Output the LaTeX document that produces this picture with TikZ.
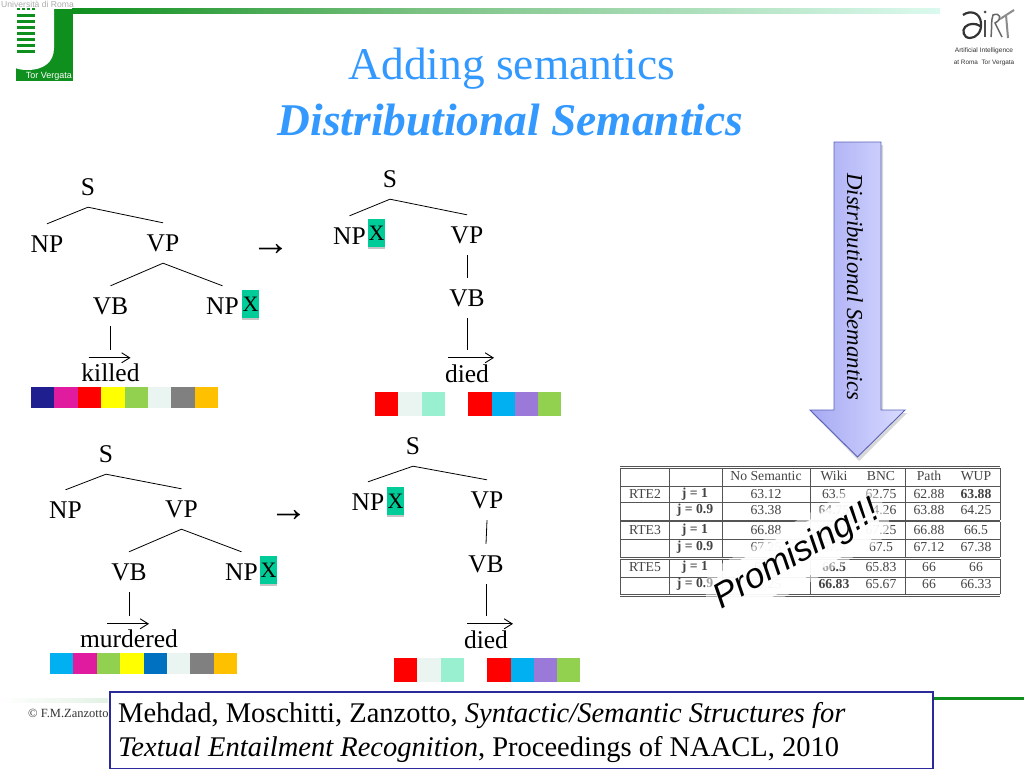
\documentclass[tikz,border=0pt]{standalone}
\usepackage{fontspec}
\setmainfont{Liberation Serif}
\newfontfamily\arialf{Liberation Sans}
\usetikzlibrary{calc,shadows,arrows.meta}
\definecolor{gr}{HTML}{0F8F1E}
\definecolor{tealx}{HTML}{00CC99}
\definecolor{cnavy}{HTML}{1F1F8F}
\definecolor{cmag}{HTML}{E01BA0}
\definecolor{cred}{HTML}{FF0000}
\definecolor{cyel}{HTML}{FFFF00}
\definecolor{cgrn}{HTML}{92D050}
\definecolor{cpale}{HTML}{EAF4F1}
\definecolor{cgray}{HTML}{808080}
\definecolor{corg}{HTML}{FFC000}
\definecolor{cmint}{HTML}{99F0D0}
\definecolor{csky}{HTML}{00B0F0}
\definecolor{cpur}{HTML}{9B79D8}
\definecolor{cblu}{HTML}{0070C0}
\definecolor{titleblue}{HTML}{3399FF}
\definecolor{boxblue}{HTML}{2A2A9A}
\definecolor{tline}{HTML}{555555}
\definecolor{ttext}{HTML}{444444}
\definecolor{arrL}{HTML}{A6A9F2}
\definecolor{arrR}{HTML}{D8DBFF}
\definecolor{arrB}{HTML}{5A62B8}
\tikzset{
 x=1pt,y=-1pt,
 lab/.style={inner sep=0pt,minimum height=40pt,font=\fontsize{25.5}{25.5}\selectfont,text=black},
 word/.style={inner sep=0pt,font=\fontsize{25.5}{25.5}\selectfont,text=black,text height=16pt,text depth=0pt},
 xbox/.style={fill=tealx,inner sep=0pt,minimum width=17pt,minimum height=28pt,font=\fontsize{22}{22}\selectfont,drop shadow={opacity=.45,shadow xshift=0pt,shadow yshift=-2pt}},
 treeline/.style={line width=.8pt,black},
 over/.style={line width=.9pt,black,-{Straight Barb[length=8pt,width=10pt]}},
 cell/.style={inner sep=0pt,font=\fontsize{13.7}{13.7}\selectfont,text=ttext},
 tl/.style={line width=.8pt,tline},
 bold/.style={cell,font=\fontsize{13.7}{13.7}\selectfont\bfseries}
}
\begin{document}
\begin{tikzpicture}
\useasboundingbox (0,0) rectangle (1024,768);
\fill[white] (0,0) rectangle (1024,768);

% header
\shade[left color=gr,right color=gr!55!white] (72,9) rectangle (420,14);
\shade[left color=gr!55!white,right color=cmint!35!white] (420,9) rectangle (940,14);
% left logo
\fill[gr] (16,9) rectangle (73,81);
\fill[white] (0,0) -- (54,0) -- (54,48) .. controls (54,62) and (44,70) .. (27,70) .. controls (10,70) and (0,60) .. (0,40) -- cycle;
\foreach \yy in {14,20,26,32,38,44,50}{\fill[gr] (17,\yy) rectangle (35,\yy+3.5);}
\foreach \xx in {17,22,27,32}{\fill[gr] (\xx,8) rectangle (\xx+3,10.5);}
\node[inner sep=0pt,anchor=west,font=\arialf\fontsize{8.6}{8.6}\selectfont,text=gray!65] (uni) at (1,4.5) {Università di Roma};
\node[inner sep=0pt,anchor=east,font=\arialf\fontsize{9}{9}\selectfont,text=white] (tv) at (72,76) {Tor Vergata};

% ART logo
\draw[line width=2.2pt,black!80] (963,15) .. controls (970,10) and (980,12) .. (981,23) .. controls (982,32) and (976,38) .. (970,38) .. controls (963,38) and (962,30) .. (965,27) .. controls (969,23) and (976,23) .. (980,26);
\draw[line width=1.5pt,black!70] (985,20) -- (985,37);
\fill[black!70] (985,12) circle (1.5pt);
\draw[line width=1.5pt,black!60] (991,37) .. controls (992,28) and (991,20) .. (993,15) .. controls (1000,12) and (1003,19) .. (995,23) -- (1002,37);
\draw[line width=2pt,black!45] (1000,19) -- (1014,10);
\draw[line width=2pt,black!45] (1006,15) -- (1008,38);
\node[inner sep=0pt,font=\arialf\fontsize{6.6}{6.6}\selectfont,text=black!80] (art1) at (984,50.5) {Artificial Intelligence};
\node[inner sep=0pt,font=\arialf\fontsize{6.4}{6.4}\selectfont,text=black!80] (art2) at (984,62.5) {at Roma\ \ Tor Vergata};

% title
\node[inner sep=0pt,font=\fontsize{45.4}{45.4}\selectfont,text=titleblue] (t1) at (512,69) {Adding semantics};
\node[inner sep=0pt,font=\fontsize{45.4}{45.4}\selectfont\bfseries\itshape,text=titleblue] (t2) at (510.5,120) {Distributional Semantics};

% tree 1
\node[lab] (a) at (88,187) {S};
\node[lab] (an) at (47,244) {NP};
\node[lab] (av) at (163,243) {VP};
\node[lab] (ab) at (110.5,306) {VB};
\node[lab] (ao) at (222.5,306) {NP};
\node[xbox] (ax) at (250.5,304) {X};
\node[word] (aw) at (110.5,373) {killed};
\draw[treeline] (an.north) -- (a.south) -- (av.north);
\draw[treeline] (ab.north) -- (av.south) -- (ao.north);
\draw[treeline] (ab.south) -- ($(aw.north)+(0,-15)$);
\draw[over] ($(aw.north)+(-22,-7)$) -- ($(aw.north)+(20,-7)$);
\foreach \c [count=\i from 0] in {cnavy,cmag,cred,cyel,cgrn,cpale,cgray,corg}{\fill[\c] ({31+\i*23.4},387) rectangle +(23.4,21);}

% tree 2
\node[lab] (b) at (390,179) {S};
\node[lab] (bn) at (349.5,236) {NP};
\node[xbox] (bx) at (376.5,233) {X};
\node[lab] (bv) at (467,235) {VP};
\node[lab] (bb) at (467,298) {VB};
\node[word] (bw) at (467,374) {died};
\draw[treeline] (bn.north) -- (b.south) -- (bv.north);
\draw[treeline] (bv.south) -- (bb.north);
\draw[treeline] (bb.south) -- ($(bw.north)+(0,-16)$);
\draw[over] ($(bw.north)+(-19,-8)$) -- ($(bw.north)+(27,-8)$);
\foreach \c [count=\i from 0] in {cred,cpale,cmint,white,cred,csky,cpur,cgrn}{\fill[\c] ({375+\i*23.3},392) rectangle +(23.3,24);}

% tree 3
\node[lab] (c) at (106,454) {S};
\node[lab] (cn) at (65.5,510) {NP};
\node[lab] (cv) at (181.5,509) {VP};
\node[lab] (cb) at (129,572) {VB};
\node[lab] (co) at (241.5,572) {NP};
\node[xbox] (cx) at (268.5,570) {X};
\node[word] (cw) at (129,639) {murdered};
\draw[treeline] (cn.north) -- (c.south) -- (cv.north);
\draw[treeline] (cb.north) -- (cv.south) -- (co.north);
\draw[treeline] (cb.south) -- ($(cw.north)+(0,-15)$);
\draw[over] ($(cw.north)+(-22,-7)$) -- ($(cw.north)+(20,-7)$);
\foreach \c [count=\i from 0] in {csky,cmag,cgrn,cyel,cblu,cpale,cgray,corg}{\fill[\c] ({50+\i*23.4},653) rectangle +(23.4,21);}

% tree 4
\node[lab] (d) at (413,446) {S};
\node[lab] (dn) at (368,502) {NP};
\node[xbox] (dx) at (395.5,501) {X};
\node[lab] (dv) at (487,500) {VP};
\node[lab] (db) at (486,564) {VB};
\node[word] (dw) at (486,640) {died};
\draw[treeline] (dn.north) -- (d.south) -- (dv.north);
\draw[treeline] (dv.south) -- (db.north);
\draw[treeline] (db.south) -- ($(dw.north)+(0,-16)$);
\draw[over] ($(dw.north)+(-19,-8)$) -- ($(dw.north)+(27,-8)$);
\foreach \c [count=\i from 0] in {cred,cpale,cmint,white,cred,csky,cpur,cgrn}{\fill[\c] ({394+\i*23.3},658) rectangle +(23.3,24);}

% arrows between trees
\node[inner sep=0pt,font=\fontsize{39}{39}\selectfont] (r1) at (271,250) {→};
\node[inner sep=0pt,font=\fontsize{39}{39}\selectfont] (r2) at (289,516) {→};

% big arrow
\fill[black!30,opacity=.5] (836,145) -- (883,145) -- (883,413) -- (907,413) -- (859,461) -- (812,413) -- (836,413) -- cycle;
\shade[left color=arrL,right color=arrR,draw=arrB,line width=.9pt]
 (834,142) -- (881,142) -- (881,410) -- (905,410) -- (857.5,457) -- (810,410) -- (834,410) -- cycle;
\node[rotate=-90,inner sep=0pt,font=\fontsize{22.8}{22.8}\selectfont\itshape] (ds) at (855,287) {Distributional Semantics};

% table
\foreach \yy in {466,468,486,502,520,521.5,539,557,559,577,594,596}{\draw[tl] (620,\yy) -- (1000,\yy);}
\foreach \xx in {620.5,669,722.5,810.5,905,1000}{
 \draw[tl] (\xx,468) -- (\xx,520); \draw[tl] (\xx,521.5) -- (\xx,557); \draw[tl] (\xx,559) -- (\xx,594);}
\foreach \xx/\tt in {766/No Semantic,834/Wiki,881/BNC,929/Path,976/WUP}{\node[cell] at (\xx,476) {\tt};}
\foreach \yy/\tt in {494/RTE2,530/RTE3,567/RTE5}{\node[cell] at (645,\yy) {\tt};}
\foreach \yy/\tt in {494/j = 1,510/j = 0.9,530/j = 1,547/j = 0.9,567/j = 1,584/j = 0.9}{\node[bold] at (695,\yy) {\tt};}
\foreach \xx/\yy/\tt in {766/494/63.12,834/494/63.5,881/494/62.75,929/494/62.88,
 766/510/63.38,881/510/64.26,929/510/63.88,976/510/64.25,
 766/530/66.88,834/530/67.25,881/530/67.25,929/530/66.88,976/530/66.5,
 766/547/67.25,834/547/67.5,881/547/67.5,929/547/67.12,976/547/67.38,
 766/567/65.5,881/567/65.83,929/567/66,976/567/66,
 766/584/65.25,881/584/65.67,929/584/66,976/584/66.33}{\node[cell] at (\xx,\yy) {\tt};}
\foreach \xx/\yy/\tt in {976/494/63.88,834/510/64.75,834/567/66.5,834/584/66.83}{\node[bold] at (\xx,\yy) {\tt};}

% promising
\fill[white,opacity=.5,rotate around={30:(797,555)},rounded corners=26pt] (697,525) rectangle (897,585);
\fill[white,opacity=.9,rotate around={30:(797,555)},rounded corners=22pt] (707,531) rectangle (887,579);
\node[rotate=30,inner sep=0pt,font=\arialf\itshape\fontsize{35}{35}\selectfont] (pr) at (797,555) {Promising!!!};

% footer
\shade[left color=white,right color=gr!12!white] (0,698) rectangle (108,702);
\fill[gr] (932,697) rectangle (1024,700);
\node[inner sep=0pt,anchor=west,font=\fontsize{12.5}{12.5}\selectfont,text=black!80] (cr) at (28,713) {© F.M.Zanzotto};
\node[draw=boxblue,line width=2.8pt,fill=white,inner sep=0pt,minimum width=823pt,minimum height=77pt,anchor=north west] (cit) at (108.5,690.5) {};
\node[inner sep=0pt,anchor=west,font=\fontsize{28.5}{28.5}\selectfont] (l1) at (118,716) {Mehdad, Moschitti, Zanzotto, \textit{Syntactic/Semantic Structures for}};
\node[inner sep=0pt,anchor=west,font=\fontsize{28.5}{28.5}\selectfont] (l2) at (118,750) {\textit{Textual Entailment Recognition}, Proceedings of NAACL, 2010};
\end{tikzpicture}
\end{document}
